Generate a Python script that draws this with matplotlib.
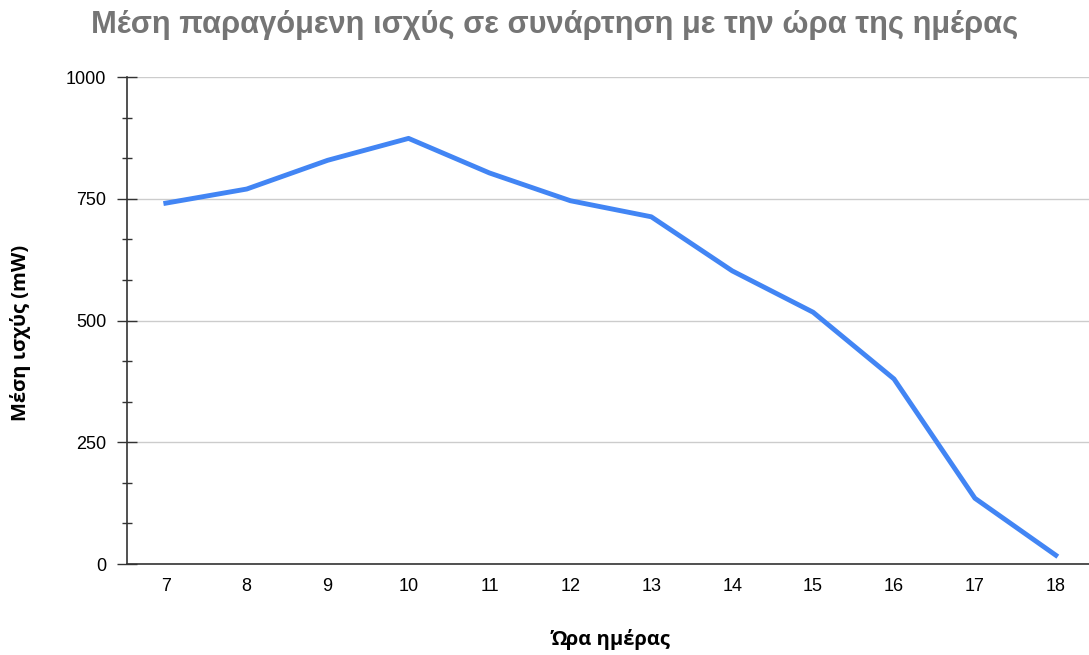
import matplotlib
matplotlib.use('Agg')
import matplotlib.pyplot as plt
from matplotlib.ticker import MultipleLocator

hours = [7, 8, 9, 10, 11, 12, 13, 14, 15, 16, 17, 18]
power = [741, 770, 829, 874, 803, 746, 713, 602, 517, 380, 135, 18]
y_ticks = [0, 250, 500, 750, 1000]

title = 'Μέση παραγόμενη ισχύς σε συνάρτηση με την ώρα της ημέρας'
x_label = 'Ώρα ημέρας'
y_label = 'Μέση ισχύς (mW)'

plt.rcParams['font.family'] = ['Liberation Sans', 'DejaVu Sans']

fig = plt.figure(figsize=(10.89, 6.55), dpi=100)
ax = fig.add_axes([0.1166, 0.1389, 0.8834, 0.7435])

ax.plot(hours, power, color='#4285F4', linewidth=3.5, solid_joinstyle='round', zorder=3)

ax.set_xlim(6.52, 18.41)
ax.set_ylim(0, 1000)
ax.set_xticks(hours)
ax.set_yticks(y_ticks)
ax.yaxis.set_minor_locator(MultipleLocator(250 / 3))
ax.grid(axis='y', color='#cccccc', linewidth=1)
ax.set_axisbelow(True)

for s in ['top', 'right']:
    ax.spines[s].set_visible(False)
ax.spines['left'].set_color('#333333')
ax.spines['bottom'].set_color('#333333')
ax.spines['left'].set_linewidth(1.2)
ax.spines['bottom'].set_linewidth(1.2)

ax.tick_params(axis='y', which='major', direction='inout', length=13.7, width=1, color='#333333',
               labelsize=13, pad=8)
ax.tick_params(axis='y', which='minor', direction='inout', length=7.2, width=1, color='#333333')
ax.tick_params(axis='x', length=0, labelsize=13, pad=10)

fig.text(0.509, 0.962, title, ha='center', va='center', fontsize=22.2, fontweight='bold',
         color='#757575')
fig.text(0.019, 0.491, y_label, rotation=90, ha='center', va='center', fontsize=14.5,
         fontweight='bold', family=['Open Sans', 'DejaVu Sans'])
fig.text(0.561, 0.023, x_label, ha='center', va='center', fontsize=14.5,
         fontweight='bold', family=['Open Sans', 'DejaVu Sans'])

fig.savefig('out.png', dpi=100)
